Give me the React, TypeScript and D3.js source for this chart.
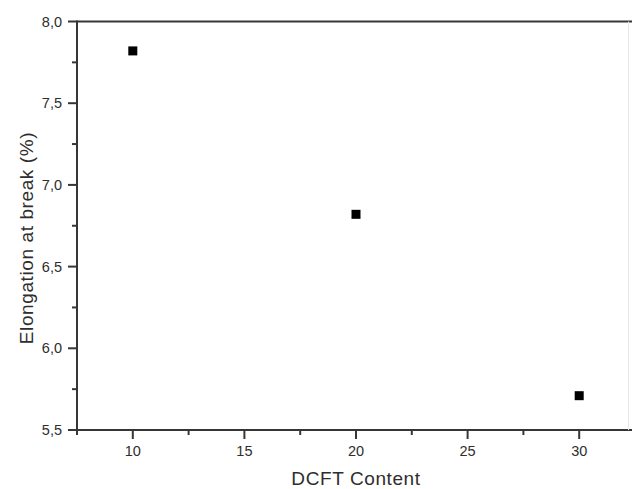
import React from 'react';
import * as d3 from 'd3';

const contents = [10, 20, 30];
const elongation = [7.82, 6.82, 5.71];
const xMajorTicks = [10, 15, 20, 25, 30];
const yMajorTicks = [5.5, 6.0, 6.5, 7.0, 7.5, 8.0];

const W = 632;
const H = 489;
const left = 77;
const top = 21.5;
const bottom = 430;
const rightEnd = 635;

const axisColor = '#363636';
const textColor = '#2e2e2e';
const font = '"Liberation Sans", Arial, sans-serif';

export default function App() {
  const x = d3.scaleLinear().domain([7.5, 32.5]).range([left, rightEnd]);
  const y = d3.scaleLinear().domain([5.5, 8.0]).range([bottom, top]);

  const xMinor = d3.range(7.5, 32.6, 5);
  const yMinor = d3.range(5.75, 8.0, 0.5);
  const fmt = (v: number) => v.toFixed(1).replace('.', ',');

  return (
    <svg width={W} height={H} style={{ position: 'absolute', left: 0, top: 0, background: '#fff' }}>
      {/* frame */}
      <line x1={left} x2={W} y1={top} y2={top} stroke={axisColor} strokeWidth={2} />
      <line x1={left} x2={W} y1={bottom} y2={bottom} stroke={axisColor} strokeWidth={2} />
      <line x1={left} x2={left} y1={top - 1} y2={bottom + 1} stroke={axisColor} strokeWidth={2} />
      <line x1={628.5} x2={628.5} y1={top} y2={bottom} stroke="#e8e8e8" strokeWidth={1} />

      {/* y ticks */}
      {yMajorTicks.map(t => (
        <g key={'y' + t}>
          <line x1={left - 9} x2={left} y1={y(t)} y2={y(t)} stroke={axisColor} strokeWidth={2} />
          <text x={62} y={y(t) + 5} textAnchor="end" fontFamily={font} fontSize={14.5} fill={textColor}>
            {fmt(t)}
          </text>
        </g>
      ))}
      {yMinor.map(t => (
        <line key={'ym' + t} x1={left - 5} x2={left} y1={y(t)} y2={y(t)} stroke={axisColor} strokeWidth={2} />
      ))}

      {/* x ticks */}
      {xMajorTicks.map(t => (
        <g key={'x' + t}>
          <line x1={x(t)} x2={x(t)} y1={bottom} y2={bottom + 9} stroke={axisColor} strokeWidth={2} />
          <text x={x(t)} y={456} textAnchor="middle" fontFamily={font} fontSize={14.5} fill={textColor}>
            {t}
          </text>
        </g>
      ))}
      {xMinor.map(t => (
        <line key={'xm' + t} x1={x(t)} x2={x(t)} y1={bottom} y2={bottom + 5} stroke={axisColor} strokeWidth={2} />
      ))}

      {/* points */}
      {contents.map((c, i) => (
        <rect key={'p' + c} x={x(c) - 4.5} y={y(elongation[i]) - 4.5} width={9} height={9} fill="#000" />
      ))}

      {/* axis titles */}
      <text x={356} y={485} textAnchor="middle" fontFamily={font} fontSize={19} letterSpacing={0.6} fill={textColor}>
        DCFT Content
      </text>
      <text
        transform={`translate(33,238) rotate(-90)`}
        textAnchor="middle"
        fontFamily={font}
        fontSize={19}
        letterSpacing={0.6}
        fill={textColor}
      >
        Elongation at break (%)
      </text>
    </svg>
  );
}
